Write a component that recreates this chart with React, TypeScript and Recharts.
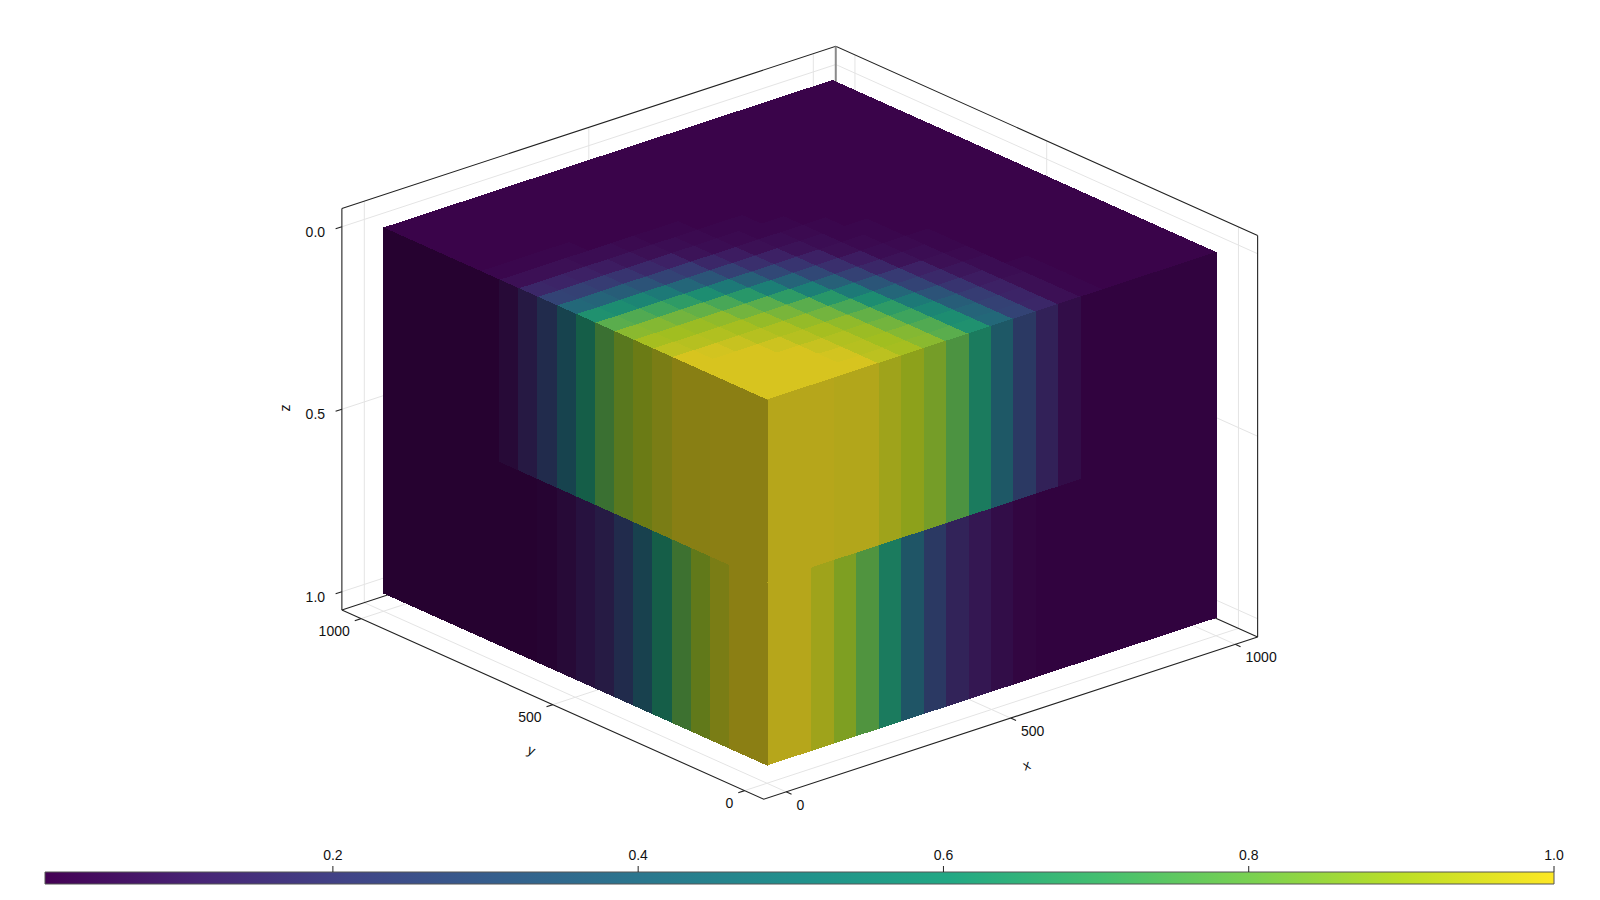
import { ScatterChart, Scatter, XAxis, YAxis, ComposedChart, Area, ReferenceArea } from 'recharts';

const viridisStops = ['#440154', '#482475', '#414487', '#355f8d', '#2a788e', '#21918c', '#22a884', '#44bf70', '#7ad151', '#bddf26', '#fde725'];

// column values on the two side faces, from the front corner outwards
const upperProfile = [1, 1, 1, 0.99, 0.99, 0.95, 0.91, 0.86, 0.77, 0.61, 0.41, 0.24, 0.13, 0.05, 0.01, 0.01, 0.01, 0.01, 0.01, 0.01];
const lowerProfile = [1, 1, 0.95, 0.88, 0.78, 0.61, 0.39, 0.24, 0.14, 0.09, 0.05, 0.02, 0.01, 0.01, 0.01, 0.01, 0.01, 0.01, 0.01, 0.01];

// cells of the top face
const topGrid = [
    [1, 1, 1, 1, 1, 0.95, 0.91, 0.86, 0.77, 0.61, 0.41, 0.24, 0.13, 0.05, 0.02, 0.01, 0.01, 0.01, 0.01, 0.01],
    [1, 1, 1, 1, 0.99, 0.94, 0.9, 0.85, 0.75, 0.59, 0.39, 0.23, 0.12, 0.05, 0.02, 0.01, 0.01, 0.01, 0.01, 0.01],
    [1, 1, 1, 1, 0.97, 0.93, 0.89, 0.82, 0.71, 0.55, 0.36, 0.21, 0.11, 0.05, 0.02, 0.01, 0.01, 0.01, 0.01, 0.01],
    [1, 1, 1, 0.98, 0.94, 0.91, 0.87, 0.79, 0.66, 0.49, 0.31, 0.18, 0.09, 0.04, 0.02, 0.01, 0.01, 0.01, 0.01, 0.01],
    [1, 0.99, 0.97, 0.94, 0.92, 0.88, 0.82, 0.73, 0.59, 0.4, 0.24, 0.14, 0.07, 0.04, 0.01, 0.01, 0.01, 0.01, 0.01, 0.01],
    [0.95, 0.94, 0.93, 0.91, 0.88, 0.83, 0.77, 0.64, 0.49, 0.32, 0.2, 0.11, 0.05, 0.03, 0.01, 0.01, 0.01, 0.01, 0.01, 0.01],
    [0.91, 0.9, 0.89, 0.87, 0.82, 0.77, 0.66, 0.52, 0.37, 0.23, 0.13, 0.06, 0.04, 0.02, 0.01, 0.01, 0.01, 0.01, 0.01, 0.01],
    [0.86, 0.85, 0.82, 0.79, 0.73, 0.64, 0.52, 0.39, 0.26, 0.16, 0.09, 0.04, 0.03, 0.02, 0.01, 0.01, 0.01, 0.01, 0.01, 0.01],
    [0.77, 0.75, 0.71, 0.66, 0.59, 0.49, 0.37, 0.26, 0.18, 0.11, 0.05, 0.03, 0.02, 0.01, 0.01, 0.01, 0.01, 0.01, 0.01, 0.01],
    [0.61, 0.59, 0.55, 0.49, 0.4, 0.32, 0.23, 0.16, 0.11, 0.06, 0.04, 0.02, 0.02, 0.01, 0.01, 0.01, 0.01, 0.01, 0.01, 0.01],
    [0.41, 0.39, 0.36, 0.31, 0.24, 0.2, 0.13, 0.09, 0.05, 0.04, 0.03, 0.02, 0.01, 0.01, 0.01, 0.01, 0.01, 0.01, 0.01, 0.01],
    [0.24, 0.23, 0.21, 0.18, 0.14, 0.11, 0.06, 0.04, 0.03, 0.02, 0.02, 0.01, 0.01, 0.01, 0.01, 0.01, 0.01, 0.01, 0.01, 0.01],
    [0.13, 0.12, 0.11, 0.09, 0.07, 0.05, 0.04, 0.03, 0.02, 0.02, 0.01, 0.01, 0.01, 0.01, 0.01, 0.01, 0.01, 0.01, 0.01, 0.01],
    [0.05, 0.05, 0.05, 0.04, 0.04, 0.03, 0.02, 0.02, 0.01, 0.01, 0.01, 0.01, 0.01, 0.01, 0.01, 0.01, 0.01, 0.01, 0.01, 0.01],
    [0.02, 0.02, 0.02, 0.02, 0.01, 0.01, 0.01, 0.01, 0.01, 0.01, 0.01, 0.01, 0.01, 0.01, 0.01, 0.01, 0.01, 0.01, 0.01, 0.01],
    [0.01, 0.01, 0.01, 0.01, 0.01, 0.01, 0.01, 0.01, 0.01, 0.01, 0.01, 0.01, 0.01, 0.01, 0.01, 0.01, 0.01, 0.01, 0.01, 0.01],
    [0.01, 0.01, 0.01, 0.01, 0.01, 0.01, 0.01, 0.01, 0.01, 0.01, 0.01, 0.01, 0.01, 0.01, 0.01, 0.01, 0.01, 0.01, 0.01, 0.01],
    [0.01, 0.01, 0.01, 0.01, 0.01, 0.01, 0.01, 0.01, 0.01, 0.01, 0.01, 0.01, 0.01, 0.01, 0.01, 0.01, 0.01, 0.01, 0.01, 0.01],
    [0.01, 0.01, 0.01, 0.01, 0.01, 0.01, 0.01, 0.01, 0.01, 0.01, 0.01, 0.01, 0.01, 0.01, 0.01, 0.01, 0.01, 0.01, 0.01, 0.01],
    [0.01, 0.01, 0.01, 0.01, 0.01, 0.01, 0.01, 0.01, 0.01, 0.01, 0.01, 0.01, 0.01, 0.01, 0.01, 0.01, 0.01, 0.01, 0.01, 0.01],
];

const xyTicks = [0, 500, 1000];
const xyTickLabels = ['0', '500', '1000'];
const zTicks = [0, 0.5, 1];
const zTickLabels = ['0.0', '0.5', '1.0'];
const barTicks = [0.2, 0.4, 0.6, 0.8, 1.0];
const barRange = [0.0114, 1];

const CELL = 50;
const LO = -50, HI = 1050, ZLO = -0.05, ZHI = 1.05;
const TICK = 14;
const FONT = '"Liberation Sans", Arial, sans-serif';
const FRAME = '#222';
const GRID = '#e4e4e4';

// fixed camera of the 3d axis: data (x, y, z) to picture position
function project(x: number, y: number, z: number) {
    return {
        px: 767 + 0.449 * x - 0.3835 * y,
        py: 765 - 0.1475 * x - 0.172 * y - 365 * (1 - z),
    };
}

function shaded(v: number, light: number) {
    const t = Math.min(Math.max(v, 0), 1) * (viridisStops.length - 1);
    const i = Math.min(Math.floor(t), viridisStops.length - 2);
    const hex = (s: string, k: number) => parseInt(s.slice(1 + k * 2, 3 + k * 2), 16);
    const ch = [0, 1, 2].map((k) => {
        const a = hex(viridisStops[i], k);
        const b = hex(viridisStops[i + 1], k);
        return Math.round((a + (b - a) * (t - i)) * light);
    });
    return `rgb(${ch[0]},${ch[1]},${ch[2]})`;
}

type P3 = [number, number, number];
const path3 = (pts: P3[]) => pts.map((p) => project(p[0], p[1], p[2]));

const gridLines: P3[][] = [];
xyTicks.forEach((t) => {
    gridLines.push([[t, HI, ZLO], [t, HI, ZHI]]);
    gridLines.push([[HI, t, ZLO], [HI, t, ZHI]]);
    gridLines.push([[t, LO, ZHI], [t, HI, ZHI]]);
    gridLines.push([[LO, t, ZHI], [HI, t, ZHI]]);
});
zTicks.forEach((t) => {
    gridLines.push([[LO, HI, t], [HI, HI, t]]);
    gridLines.push([[HI, LO, t], [HI, HI, t]]);
});

const frameLines: P3[][] = [
    [[LO, HI, ZLO], [HI, HI, ZLO], [HI, LO, ZLO]],
    [[LO, HI, ZLO], [LO, HI, ZHI]],
    [[HI, LO, ZLO], [HI, LO, ZHI]],
    [[LO, HI, ZHI], [LO, LO, ZHI], [HI, LO, ZHI]],
    [[LO, HI, ZHI], [HI, HI, ZHI], [HI, LO, ZHI]],
];
xyTicks.forEach((t) => {
    frameLines.push([[t, LO, ZHI], [t, LO - TICK, ZHI]]);
    frameLines.push([[LO, t, ZHI], [LO - TICK, t, ZHI]]);
});
zTicks.forEach((t) => frameLines.push([[LO, HI, t], [LO - TICK, HI, t]]));

const cells: { pts: P3[]; color: string }[] = [];
const LIGHT_TOP = 0.85, LIGHT_RIGHT = 0.72, LIGHT_LEFT = 0.55;
topGrid.forEach((row, j) => {
    row.forEach((v, i) => {
        const x0 = i * CELL, x1 = x0 + CELL, y0 = j * CELL, y1 = y0 + CELL;
        cells.push({ pts: [[x0, y0, 0], [x1, y0, 0], [x1, y1, 0], [x0, y1, 0], [x0, y0, 0]], color: shaded(v, LIGHT_TOP) });
    });
});
[{ vals: upperProfile, z0: 0, z1: 0.5 }, { vals: lowerProfile, z0: 0.5, z1: 1 }].forEach(({ vals, z0, z1 }) => {
    vals.forEach((v, i) => {
        const a = i * CELL, b = a + CELL;
        cells.push({ pts: [[a, 0, z0], [b, 0, z0], [b, 0, z1], [a, 0, z1], [a, 0, z0]], color: shaded(v, LIGHT_RIGHT) });
        cells.push({ pts: [[0, a, z0], [0, b, z0], [0, b, z1], [0, a, z1], [0, a, z0]], color: shaded(v, LIGHT_LEFT) });
    });
});

const tickText = [
    ...xyTicks.map((t, i) => {
        const p = project(t, LO - TICK, ZHI);
        return { px: p.px + 5, py: p.py + 10.5, label: xyTickLabels[i], anchor: 'start', angle: 0 };
    }),
    ...xyTicks.map((t, i) => {
        const p = project(LO - TICK, t, ZHI);
        return { px: p.px - 5, py: p.py + 10, label: xyTickLabels[i], anchor: 'end', angle: 0 };
    }),
    ...zTicks.map((t, i) => {
        const p = project(LO - TICK, HI, t);
        return { px: p.px - 10.5, py: p.py + 3, label: zTickLabels[i], anchor: 'end', angle: 0 };
    }),
    { px: 1026.5, py: 765, label: 'x', anchor: 'middle', angle: -18 },
    { px: 531.6, py: 750, label: 'y', anchor: 'middle', angle: 24 },
    { px: 284.7, py: 408, label: 'z', anchor: 'middle', angle: -90 },
];

const NoDot = () => null;

function TextMark(props: any) {
    const { cx, cy, payload } = props;
    return (
        <text x={cx} y={cy} textAnchor={payload.anchor} dominantBaseline="central" fontFamily={FONT} fontSize={14} fill="#111"
            transform={payload.angle ? `rotate(${payload.angle} ${cx} ${cy})` : undefined}>
            {payload.label}
        </text>
    );
}

function polyline(key: string, pts: P3[], style: any) {
    return <Scatter key={key} data={path3(pts)} shape={NoDot} line={style} isAnimationActive={false} />;
}

const barData = viridisStops.map((_, i) => ({ v: barRange[0] + ((barRange[1] - barRange[0]) * i) / (viridisStops.length - 1), h: 1 }));

export default function App() {
    return (
        <div style={{ position: 'absolute', left: 0, top: 0, width: 1600, height: 900, background: '#fff' }}>
            <div style={{ position: 'absolute', left: 0, top: 0 }}>
                <ScatterChart width={1600} height={830} margin={{ top: 0, right: 0, bottom: 0, left: 0 }}>
                    <XAxis type="number" dataKey="px" domain={[0, 1600]} hide />
                    <YAxis type="number" dataKey="py" domain={[0, 830]} reversed hide />
                    {gridLines.map((l, i) => polyline(`g${i}`, l, { stroke: GRID, strokeWidth: 1 }))}
                    {frameLines.map((l, i) => polyline(`f${i}`, l, { stroke: FRAME, strokeWidth: 1.1 }))}
                    {polyline('back', [[HI, HI, ZLO], [HI, HI, ZHI]], { stroke: '#8a8a8a', strokeWidth: 2 })}
                    {cells.map((c, i) => polyline(`c${i}`, c.pts, { fill: c.color, stroke: c.color, strokeWidth: 1, shapeRendering: 'crispEdges' }))}
                    <Scatter data={tickText} shape={TextMark} isAnimationActive={false} />
                </ScatterChart>
            </div>
            <div style={{ position: 'absolute', left: 0, top: 830 }}>
                <ComposedChart width={1600} height={60} data={barData} margin={{ top: 12, right: 46, bottom: 6, left: 45 }}>
                    <defs>
                        <linearGradient id="viridisBar" x1="0" y1="0" x2="1" y2="0">
                            {viridisStops.map((c, i) => (
                                <stop key={c} offset={i / (viridisStops.length - 1)} stopColor={c} />
                            ))}
                        </linearGradient>
                    </defs>
                    <XAxis type="number" dataKey="v" orientation="top" domain={barRange} ticks={barTicks} tickSize={6} tickMargin={6}
                        axisLine={false} tickFormatter={(t: number) => t.toFixed(1)} height={30}
                        tick={{ fontFamily: FONT, fontSize: 14, fill: '#111' }} tickLine={{ stroke: FRAME }} interval={0} />
                    <YAxis type="number" domain={[0, 1]} hide />
                    <Area dataKey="h" type="linear" fill="url(#viridisBar)" fillOpacity={1} stroke="none" isAnimationActive={false} dot={false} activeDot={false} />
                    <ReferenceArea x1={barRange[0]} x2={barRange[1]} y1={0} y2={1} fill="none" stroke="#555" strokeWidth={1} />
                </ComposedChart>
            </div>
        </div>
    );
}
